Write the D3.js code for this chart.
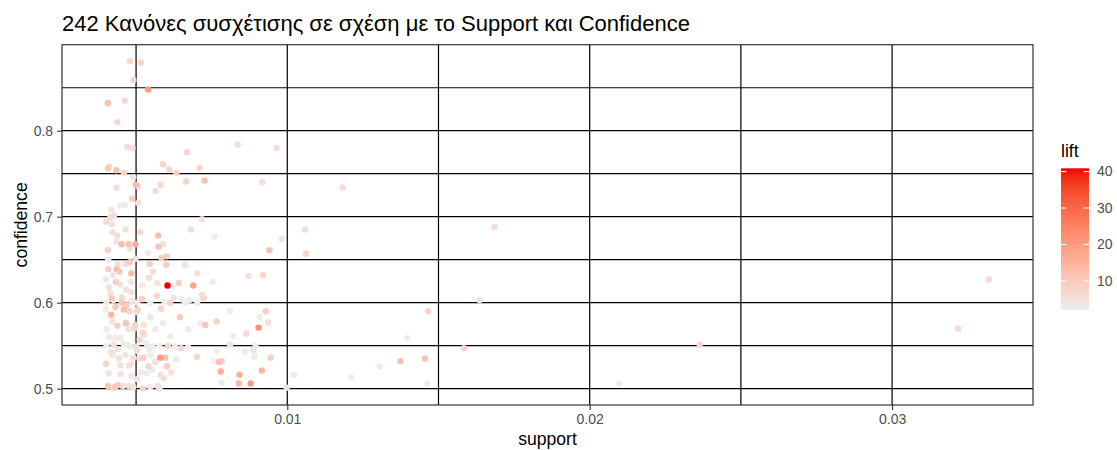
<!DOCTYPE html>
<html>
<head>
<meta charset="utf-8">
<script src="https://cdn.jsdelivr.net/npm/d3@7"></script>
<style>
  body { margin: 0; background: #ffffff; }
  svg { display: block; }
  text { font-family: "Liberation Sans", Arial, Helvetica, sans-serif; }
</style>
</head>
<body>
<svg id="chart" width="1117" height="450"></svg>
<script>
// Association rules: support, confidence and lift of each rule (parallel arrays)
const support = [
  0.00480,0.00516,0.00491,0.00540,0.00407,0.00463,0.00438,0.00471,0.00488,0.00669,
  0.00836,0.00965,0.00407,0.00411,0.00435,0.00460,0.00589,0.00610,0.00633,0.00710,
  0.00491,0.00499,0.00508,0.00435,0.00581,0.00564,0.00665,0.00726,0.00917,0.00487,
  0.00507,0.00447,0.00463,0.00418,0.00427,0.00415,0.00401,0.00421,0.00718,0.01183,
  0.00573,0.00682,0.00759,0.00438,0.00981,0.01059,0.00941,0.01062,0.01685,0.00872,
  0.00920,0.00929,0.00909,0.00937,0.00905,0.00864,0.00895,0.00859,0.00888,0.00892,
  0.00945,0.00916,0.00842,0.00840,0.00879,0.00998,0.01022,0.01212,0.01305,0.01374,
  0.01398,0.01466,0.01455,0.01463,0.01636,0.01584,0.02097,0.02364,0.03320,0.03218,
  0.00822,0.00810,0.00811,
  0.00452,0.00476,0.00498,0.00435,0.00479,0.00407,0.00574,0.00589,0.00539,0.00584,
  0.00602,0.00408,0.00498,0.00480,0.00439,0.00466,0.00545,0.00600,0.00408,0.00435,
  0.00445,0.00484,0.00556,0.00702,0.00423,0.00433,0.00448,0.00484,0.00520,0.00604,
  0.00620,0.00641,0.00689,0.00754,0.00410,0.00415,0.00485,0.00569,0.00520,0.00419,
  0.00453,0.00594,0.00625,0.00650,0.00676,0.00718,0.00724,0.00702,0.00452,0.00469,
  0.00459,0.00432,0.00401,0.00418,0.00478,0.00505,0.00501,0.00583,0.00613,0.00645,
  0.00438,0.00466,0.00498,0.00525,0.00494,0.00589,0.00673,0.00714,0.00729,0.00766,
  0.00613,0.00522,0.00527,0.00411,0.00430,0.00448,0.00512,0.00534,0.00426,0.00459,
  0.00470,0.00501,0.00538,0.00577,0.00605,0.00649,0.00418,0.00439,0.00503,0.00543,
  0.00580,0.00596,0.00633,0.00701,0.00767,0.00443,0.00524,0.00511,0.00401,0.00448,
  0.00477,0.00484,0.00564,0.00541,0.00516,0.00534,0.00554,0.00602,0.00581,0.00592,
  0.00616,0.00449,0.00758,0.00774,0.00784,0.00780,0.00783,0.00407,0.00431,0.00439,
  0.00456,0.00476,0.00523,0.00572,0.00578,
  0.00402,0.00425,0.00485,0.00504,0.00547,0.00662,0.00402,0.00481,0.00554,0.00629,
  0.00672,0.00425,0.00491,0.00547,0.00402,0.00422,0.00475,0.00547,0.00564,0.00422,
  0.00465,0.00491,0.00547,0.00409,0.00485,0.00504,0.00422,0.00465,0.00514,0.00401,
  0.00468,0.00543,0.00570,0.00662
];

const confidence = [
  0.881,0.879,0.859,0.848,0.832,0.835,0.810,0.781,0.780,0.775,
  0.784,0.780,0.756,0.758,0.754,0.751,0.761,0.755,0.751,0.757,
  0.746,0.737,0.735,0.734,0.737,0.730,0.741,0.742,0.740,0.721,
  0.716,0.713,0.714,0.708,0.701,0.699,0.694,0.691,0.697,0.734,
  0.678,0.685,0.677,0.678,0.674,0.685,0.661,0.657,0.688,0.631,
  0.632,0.590,0.583,0.577,0.571,0.564,0.550,0.543,0.545,0.537,
  0.536,0.521,0.516,0.506,0.506,0.501,0.516,0.513,0.526,0.532,
  0.559,0.590,0.535,0.506,0.603,0.547,0.506,0.551,0.627,0.570,
  0.561,0.590,0.551,
  0.668,0.668,0.668,0.671,0.663,0.661,0.665,0.668,0.658,0.652,
  0.654,0.650,0.651,0.647,0.645,0.645,0.645,0.644,0.639,0.639,
  0.636,0.634,0.636,0.634,0.632,0.624,0.621,0.624,0.620,0.620,
  0.619,0.623,0.620,0.624,0.618,0.611,0.612,0.608,0.604,0.605,
  0.606,0.601,0.606,0.604,0.603,0.609,0.605,0.600,0.600,0.597,
  0.592,0.595,0.592,0.586,0.590,0.592,0.589,0.593,0.600,0.583,
  0.573,0.576,0.574,0.574,0.570,0.576,0.569,0.576,0.574,0.578,
  0.561,0.565,0.563,0.560,0.559,0.559,0.557,0.553,0.551,0.552,
  0.551,0.549,0.549,0.550,0.550,0.547,0.542,0.546,0.544,0.546,
  0.536,0.536,0.534,0.537,0.544,0.535,0.536,0.535,0.529,0.527,
  0.527,0.529,0.531,0.526,0.519,0.518,0.522,0.526,0.516,0.512,
  0.519,0.517,0.532,0.531,0.532,0.520,0.507,0.503,0.502,0.504,
  0.503,0.503,0.500,0.503,0.500,
  0.600,0.603,0.602,0.600,0.599,0.600,0.550,0.549,0.549,0.549,
  0.548,0.500,0.502,0.502,0.569,0.578,0.569,0.583,0.569,0.539,
  0.539,0.536,0.539,0.518,0.515,0.511,0.682,0.685,0.682,0.627,
  0.615,0.629,0.623,0.644
];

const lift = [
  8,8,7,20,12,7,7,6,5,7,
  6,6,10,8,12,7,8,7,8,7,
  4,13,6,6,7,6,8,12,6,9,
  5,2.6,2.8,5,5,6,6,5,5,6,
  12,6,2.5,5,4,6,12,7,6,5,
  7,9,2.4,5,22,7,2.5,2.3,5,2.6,
  9,14,16,14,20,5,2.2,2.4,2.5,12,
  2.3,8,12,2.2,5,8,2.0,7,6,7,
  2.5,2.3,4,
  12,11,16,5,5,8,11,5,2.5,10,
  8,2.4,5,10,5,5,9,9,9,13,
  10,13,6,6,4,9,5,4,3,40.9,
  2.6,9,18,2.4,5,5,5,7,9,10,
  6,2.5,4,2.4,2.3,6,7,2.5,11,9,
  12,10,2.6,14,8,7,5,8,8,10,
  9,11,8,4,7,2.4,2.5,2.6,11,8,
  2.4,7,5,2.6,2.5,2.7,7,2.5,5,2.6,
  2.8,5,2.5,2.4,7,6,5,5,5,2.6,
  20,12,2.4,7,2.5,5,9,5,7,5,
  5,4,5,7,2.6,2.5,2.7,9,5,5,
  5,5,2.4,11,9,16,2.5,10,10,10,
  5,5,7,5,5,
  2.5,2.4,4,2.6,2.3,2.5,2.4,2.6,2.5,2.3,
  2.4,4,4,2.6,2.5,5,4,4,2.7,4,
  4,5,2.6,4,4,4,5,5,6,4,
  5,5,4,5
];

// Axis breaks and labels
const xTicks = [0.01, 0.02, 0.03];
const xMinor = [0.005, 0.015, 0.025];
const yTicks = [0.5, 0.6, 0.7, 0.8];
const yMinor = [0.55, 0.65, 0.75, 0.85];
const liftTicks = [10, 20, 30, 40];

const titleText = "242 Κανόνες συσχέτισης σε σχέση με το Support και Confidence";
const xTitle = "support";
const yTitle = "confidence";
const legendTitle = "lift";

// ---------------------------------------------------------------
const svg = d3.select("#chart");
const panel = { left: 62, right: 1033, top: 44.7, bottom: 405 };

// continuous ranges padded by 5% on each side
function expand(ext) {
  const d = (ext[1] - ext[0]) * 0.05;
  return [ext[0] - d, ext[1] + d];
}

const rules = support.map((s, i) => ({ s, c: confidence[i], l: lift[i] }))
  .sort((a, b) => a.l - b.l);

const x = d3.scaleLinear().domain(expand(d3.extent(support))).range([panel.left, panel.right]);
const y = d3.scaleLinear().domain(expand(d3.extent(confidence))).range([panel.bottom, panel.top]);
const color = d3.scaleLinear().domain(d3.extent(lift))
  .range(["#EEEEEE", "#EE0000"]).interpolate(d3.interpolateLab);

// grid
const grid = svg.append("g").attr("stroke", "#000").attr("stroke-width", 1.2);
grid.selectAll("line.vx").data(xTicks.concat(xMinor)).join("line")
  .attr("x1", d => x(d)).attr("x2", d => x(d))
  .attr("y1", panel.top).attr("y2", panel.bottom);
grid.selectAll("line.hy").data(yTicks.concat(yMinor)).join("line")
  .attr("x1", panel.left).attr("x2", panel.right)
  .attr("y1", d => y(d)).attr("y2", d => y(d));

// points
svg.append("g").selectAll("circle").data(rules).join("circle")
  .attr("cx", d => x(d.s))
  .attr("cy", d => y(d.c))
  .attr("r", 3.2)
  .attr("fill", d => color(d.l));

// panel border
svg.append("rect")
  .attr("x", panel.left).attr("y", panel.top)
  .attr("width", panel.right - panel.left).attr("height", panel.bottom - panel.top)
  .attr("fill", "none").attr("stroke", "#333").attr("stroke-width", 1.2);

// axes
const xAxis = svg.append("g").attr("transform", `translate(0,${panel.bottom})`)
  .call(d3.axisBottom(x).tickValues(xTicks).tickFormat(d3.format(".2f")).tickSize(4.9).tickPadding(4));
const yAxis = svg.append("g").attr("transform", `translate(${panel.left},0)`)
  .call(d3.axisLeft(y).tickValues(yTicks).tickFormat(d3.format(".1f")).tickSize(4.9).tickPadding(4));
[xAxis, yAxis].forEach(a => {
  a.select(".domain").remove();
  a.selectAll(".tick line").attr("stroke", "#333").attr("stroke-width", 1.1);
  a.selectAll(".tick text").attr("fill", "#4D4D4D").style("font-size", "14px")
    .style("font-family", "'Liberation Sans', Arial, sans-serif");
});

// titles
svg.append("text").attr("x", panel.left).attr("y", 31)
  .attr("fill", "#000").style("font-size", "22px").text(titleText);
svg.append("text").attr("x", (panel.left + panel.right) / 2).attr("y", 445)
  .attr("text-anchor", "middle").attr("fill", "#000").style("font-size", "17.6px").text(xTitle);
svg.append("text")
  .attr("transform", `translate(27,${(panel.top + panel.bottom) / 2}) rotate(-90)`)
  .attr("text-anchor", "middle").attr("fill", "#000").style("font-size", "17.6px").text(yTitle);

// colour bar legend
const bar = { x: 1061, y: 168.3, w: 28, h: 141.7 };
const lScale = d3.scaleLinear().domain(d3.extent(lift)).range([bar.y + bar.h, bar.y]);
const grad = svg.append("defs").append("linearGradient")
  .attr("id", "liftGrad").attr("x1", 0).attr("y1", 1).attr("x2", 0).attr("y2", 0);
const lExt = d3.extent(lift);
d3.range(0, 1.0001, 0.05).forEach(t => {
  grad.append("stop").attr("offset", t)
    .attr("stop-color", color(lExt[0] + t * (lExt[1] - lExt[0])));
});
svg.append("text").attr("x", bar.x).attr("y", 157)
  .attr("fill", "#000").style("font-size", "17.6px").text(legendTitle);
svg.append("rect").attr("x", bar.x).attr("y", bar.y)
  .attr("width", bar.w).attr("height", bar.h).attr("fill", "url(#liftGrad)");
const lt = svg.append("g");
lt.selectAll("line.l").data(liftTicks).join("line")
  .attr("x1", bar.x).attr("x2", bar.x + bar.w / 5)
  .attr("y1", d => lScale(d)).attr("y2", d => lScale(d))
  .attr("stroke", "#fff").attr("stroke-width", 1);
lt.selectAll("line.r").data(liftTicks).join("line")
  .attr("x1", bar.x + bar.w * 4 / 5).attr("x2", bar.x + bar.w)
  .attr("y1", d => lScale(d)).attr("y2", d => lScale(d))
  .attr("stroke", "#fff").attr("stroke-width", 1);
lt.selectAll("text").data(liftTicks).join("text")
  .attr("x", bar.x + bar.w + 8).attr("y", d => lScale(d)).attr("dy", "0.35em")
  .attr("fill", "#4D4D4D").style("font-size", "14px").text(d => d);
</script>
</body>
</html>
